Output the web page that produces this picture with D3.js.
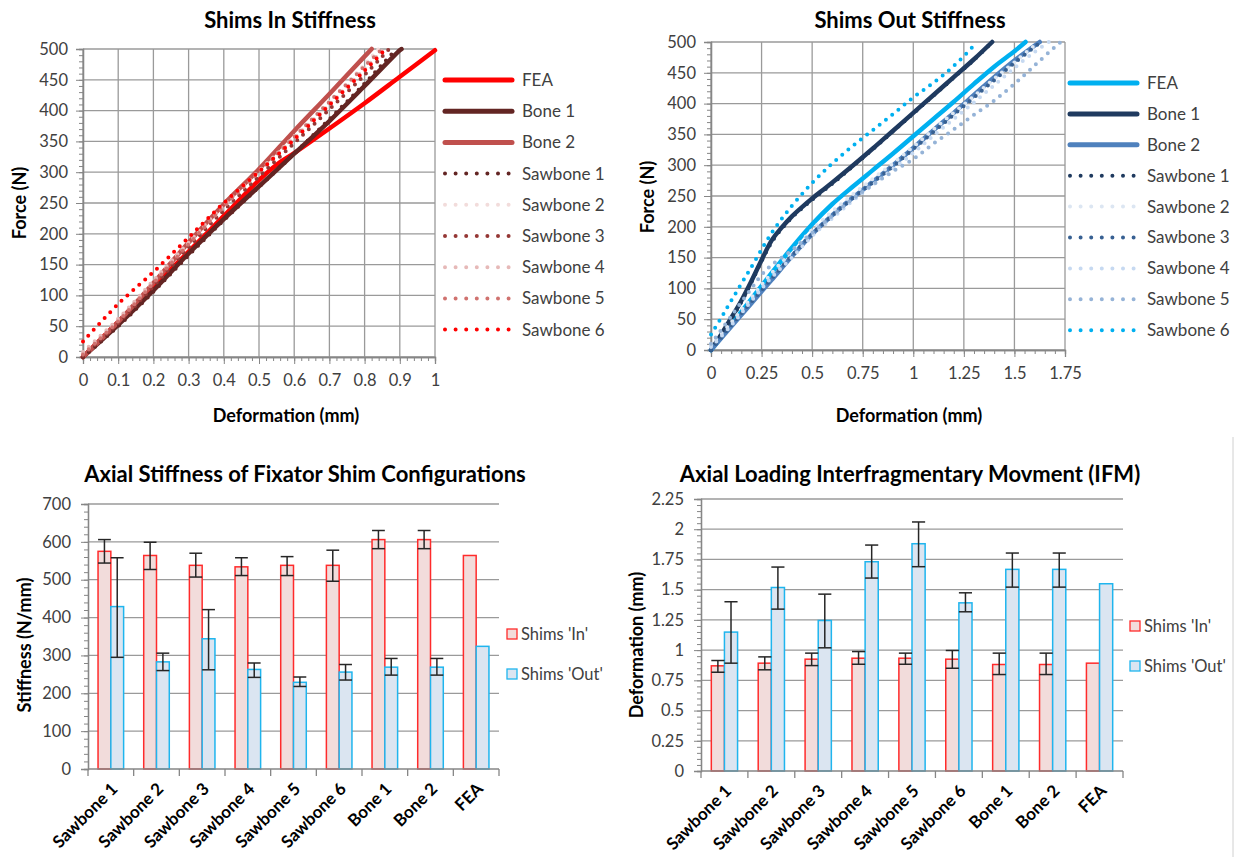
<!DOCTYPE html>
<html>
<head>
<meta charset="utf-8">
<script src="https://cdn.jsdelivr.net/npm/d3@7"></script>
<style>
    body { margin: 0; background: #fff; }
    svg text { font-family: Lato, "Open Sans", sans-serif; }
</style>
</head>
<body>
<svg id="chart" width="1236" height="857"></svg>
<script>
// ---- Shims In stiffness: [deformation mm, force N] ----
const inFEA = [[0,0],[0.1,57],[0.2,114],[0.3,171],[0.4,229],[0.5,287],[0.55,312],[0.6,331],[0.7,371],[0.8,412],[0.9,455],[1.0,498]];
const inBone1 = [[0,0],[0.1,52],[0.2,108],[0.3,168],[0.4,224],[0.5,277],[0.6,330],[0.7,383],[0.8,440],[0.9,498],[0.905,500]];
const inBone2 = [[0,0],[0.1,57],[0.2,120],[0.3,186],[0.4,248],[0.5,305],[0.6,367],[0.7,427],[0.8,488],[0.82,500]];
const inSaw1 = [[0,0],[0.1,50],[0.2,106],[0.3,165],[0.4,222],[0.5,276],[0.6,330],[0.7,386],[0.8,444],[0.89,500]];
const inSaw2 = [[0,5],[0.1,60],[0.2,122],[0.3,185],[0.4,245],[0.5,300],[0.6,358],[0.7,415],[0.8,475],[0.84,500]];
const inSaw3 = [[0,2],[0.1,55],[0.2,115],[0.3,178],[0.4,238],[0.5,293],[0.6,347],[0.7,402],[0.8,458],[0.87,500]];
const inSaw4 = [[0,8],[0.1,62],[0.2,124],[0.3,186],[0.4,246],[0.5,302],[0.6,356],[0.7,410],[0.8,468],[0.855,500]];
const inSaw5 = [[0,4],[0.1,58],[0.2,120],[0.3,183],[0.4,244],[0.5,300],[0.6,357],[0.7,414],[0.8,472],[0.85,500]];
const inSaw6 = [[0,25],[0.1,86],[0.2,138],[0.3,194],[0.4,250],[0.5,301],[0.6,353],[0.7,409],[0.8,465],[0.86,500]];

// ---- Shims Out stiffness ----
const outFEA = [[0,0],[0.1,41],[0.2,83],[0.3,125],[0.4,166],[0.5,204],[0.6,237],[0.7,265],[0.8,292],[0.9,319],[1.0,347],[1.1,375],[1.2,403],[1.3,432],[1.4,460],[1.5,485],[1.555,500]];
const outBone1 = [[0,0],[0.05,25],[0.1,52],[0.15,80],[0.2,112],[0.25,146],[0.3,178],[0.35,199],[0.4,217],[0.45,232],[0.5,246],[0.55,259],[0.6,272],[0.7,299],[0.8,327],[0.9,356],[1.0,385],[1.1,414],[1.2,443],[1.3,472],[1.39,500]];
const outBone2 = [[0,0],[0.1,38],[0.2,76],[0.3,114],[0.4,152],[0.5,188],[0.6,219],[0.7,247],[0.8,273],[0.9,300],[1.0,328],[1.1,357],[1.2,385],[1.3,414],[1.4,443],[1.5,470],[1.625,500]];
const outSaw1 = [[0,0],[0.05,24],[0.1,50],[0.15,78],[0.2,110],[0.25,144],[0.3,175],[0.35,197],[0.4,215],[0.45,230],[0.5,244],[0.55,257],[0.6,270],[0.7,298],[0.8,326],[0.9,355],[1.0,384],[1.1,413],[1.2,442],[1.3,471],[1.39,500]];
const outSaw2 = [[0,8],[0.1,45],[0.2,85],[0.3,125],[0.4,160],[0.5,195],[0.6,225],[0.7,252],[0.8,278],[0.9,303],[1.0,330],[1.1,358],[1.2,385],[1.3,412],[1.4,440],[1.5,467],[1.62,500]];
const outSaw3 = [[0,0],[0.1,40],[0.2,78],[0.3,116],[0.4,153],[0.5,188],[0.6,218],[0.7,246],[0.8,272],[0.9,298],[1.0,326],[1.1,354],[1.2,382],[1.3,410],[1.4,438],[1.5,466],[1.63,500]];
const outSaw4 = [[0,5],[0.1,40],[0.2,80],[0.3,118],[0.4,150],[0.5,185],[0.6,214],[0.7,242],[0.8,268],[0.9,294],[1.0,320],[1.1,348],[1.2,375],[1.3,402],[1.4,430],[1.5,458],[1.6,484],[1.67,500]];
const outSaw5 = [[0,10],[0.1,55],[0.2,100],[0.25,122],[0.3,138],[0.4,162],[0.5,190],[0.6,218],[0.7,245],[0.8,268],[0.9,290],[1.0,310],[1.1,335],[1.2,358],[1.3,382],[1.4,405],[1.5,432],[1.6,462],[1.7,492],[1.73,500]];
const outSaw6 = [[0,25],[0.05,52],[0.1,80],[0.2,135],[0.3,190],[0.4,234],[0.5,271],[0.6,303],[0.7,331],[0.8,357],[0.9,383],[1.0,410],[1.1,434],[1.2,461],[1.3,495],[1.31,500]];

const seriesNames = ['FEA', 'Bone 1', 'Bone 2', 'Sawbone 1', 'Sawbone 2', 'Sawbone 3', 'Sawbone 4', 'Sawbone 5', 'Sawbone 6'];
const inColors = ['#ff0000', '#632523', '#c0504d', '#632523', '#f2dcdb', '#953735', '#e6b9b8', '#d0726f', '#ff0000'];
const outColors = ['#00b0f0', '#1f3a5f', '#4f81bd', '#1f3a5f', '#dce6f2', '#376092', '#c6d9f1', '#95b3d7', '#00b0f0'];

const forceTicks = [0, 50, 100, 150, 200, 250, 300, 350, 400, 450, 500];
const inDefTicks = [0, 0.1, 0.2, 0.3, 0.4, 0.5, 0.6, 0.7, 0.8, 0.9, 1];
const outDefTicks = [0, 0.25, 0.5, 0.75, 1, 1.25, 1.5, 1.75];

// ---- bar charts ----
const barCategories = ['Sawbone 1', 'Sawbone 2', 'Sawbone 3', 'Sawbone 4', 'Sawbone 5', 'Sawbone 6', 'Bone 1', 'Bone 2', 'FEA'];
const stiffIn = [575, 564, 538, 534, 538, 538, 606, 606, 564];
const stiffInLo = [544, 527, 507, 511, 511, 496, 582, 582, null];
const stiffInHi = [606, 599, 570, 558, 561, 578, 630, 630, null];
const stiffOut = [429, 283, 344, 263, 229, 256, 269, 269, 324];
const stiffOutLo = [295, 260, 262, 242, 218, 235, 248, 248, null];
const stiffOutHi = [558, 306, 421, 280, 243, 276, 292, 292, null];
const ifmIn = [0.87, 0.892, 0.925, 0.933, 0.933, 0.925, 0.881, 0.881, 0.892];
const ifmInLo = [0.817, 0.837, 0.872, 0.883, 0.883, 0.85, 0.798, 0.798, null];
const ifmInHi = [0.914, 0.944, 0.975, 0.988, 0.975, 0.997, 0.975, 0.975, null];
const ifmOut = [1.149, 1.518, 1.245, 1.731, 1.88, 1.391, 1.668, 1.668, 1.549];
const ifmOutLo = [0.892, 1.339, 1.019, 1.596, 1.69, 1.317, 1.521, 1.521, null];
const ifmOutHi = [1.40, 1.687, 1.463, 1.869, 2.06, 1.474, 1.803, 1.803, null];
const stiffTicks = [0, 100, 200, 300, 400, 500, 600, 700];
const ifmTicks = [0, 0.25, 0.5, 0.75, 1, 1.25, 1.5, 1.75, 2, 2.25];
const barLegend = ["Shims 'In'", "Shims 'Out'"];

const svg = d3.select('#chart');
const gridColor = '#9a9a9a';
const axisColor = '#868686';
const labelColor = '#404040';

function lineChart(c) {
    const g = svg.append('g');
    const x = d3.scaleLinear().domain([0, c.xMax]).range([c.left, c.right]);
    const y = d3.scaleLinear().domain([0, 500]).range([c.bottom, c.top]);

    // gridlines
    g.append('g').selectAll('line').data(c.xTicks).join('line')
        .attr('x1', d => x(d)).attr('x2', d => x(d))
        .attr('y1', c.top).attr('y2', c.bottom)
        .attr('stroke', gridColor).attr('stroke-width', 1.3);
    g.append('g').selectAll('line').data(forceTicks).join('line')
        .attr('x1', c.left).attr('x2', c.right)
        .attr('y1', d => y(d)).attr('y2', d => y(d))
        .attr('stroke', gridColor).attr('stroke-width', 1.3);

    // minor ticks
    const yMinor = g.append('g').attr('transform', `translate(${c.left},0)`)
        .call(d3.axisLeft(y).tickValues(d3.range(0, 501, 10)).tickSize(4).tickFormat(''));
    const xMinor = g.append('g').attr('transform', `translate(0,${c.bottom})`)
        .call(d3.axisBottom(x).tickValues(d3.range(0, c.xMax + 1e-9, c.xMinor)).tickSize(4).tickFormat(''));

    const yAxis = g.append('g').attr('transform', `translate(${c.left},0)`)
        .call(d3.axisLeft(y).tickValues(forceTicks).tickSize(7).tickPadding(8));
    const xAxis = g.append('g').attr('transform', `translate(0,${c.bottom})`)
        .call(d3.axisBottom(x).tickValues(c.xTicks).tickSize(7).tickPadding(10).tickFormat(d3.format('~g')));
    [yMinor, xMinor, yAxis, xAxis].forEach(a => {
        a.select('.domain').attr('stroke', axisColor).attr('stroke-width', 1.3);
        a.selectAll('.tick line').attr('stroke', axisColor);
        a.selectAll('text').attr('font-size', 16.5).attr('fill', labelColor)
            .style('font-family', 'Lato, sans-serif');
    });

    // series
    const line = d3.line().x(d => x(d[0])).y(d => y(d[1])).curve(d3.curveCatmullRom.alpha(0.5));
    c.series.forEach((s, i) => {
        const dotted = i >= 3;
        g.append('path')
            .datum(s)
            .attr('fill', 'none')
            .attr('stroke', c.colors[i])
            .attr('stroke-width', dotted ? 4 : 4.5)
            .attr('stroke-linecap', 'round')
            .attr('stroke-dasharray', dotted ? '0 8' : null)
            .attr('d', line);
    });

    // legend
    seriesNames.forEach((name, i) => {
        const ly = c.legY + i * c.legDy;
        const dotted = i >= 3;
        g.append('line')
            .attr('x1', c.legX).attr('x2', c.legX + 67)
            .attr('y1', ly).attr('y2', ly)
            .attr('stroke', c.colors[i])
            .attr('stroke-width', dotted ? 4 : 5)
            .attr('stroke-linecap', 'round')
            .attr('stroke-dasharray', dotted ? '0 10.6' : null);
        g.append('text')
            .attr('x', c.legX + 77).attr('y', ly)
            .attr('dy', '0.35em')
            .attr('font-size', 17).attr('fill', labelColor)
            .text(name);
    });

    g.append('text')
        .attr('x', c.titleX).attr('y', 20).attr('dy', '0.35em')
        .attr('text-anchor', 'middle').attr('font-size', 22).attr('font-weight', 'bold')
        .text(c.title);
    g.append('text')
        .attr('x', c.xTitleX).attr('y', 416).attr('dy', '0.35em')
        .attr('text-anchor', 'middle').attr('font-size', 18).attr('font-weight', 'bold')
        .text('Deformation (mm)');
    g.append('text')
        .attr('transform', `translate(${c.yTitleX},${c.yTitleY}) rotate(-90)`)
        .attr('dy', '0.35em')
        .attr('text-anchor', 'middle').attr('font-size', 18).attr('font-weight', 'bold')
        .text('Force (N)');
}

function barChart(c) {
    const g = svg.append('g');
    const x = d3.scaleBand().domain(barCategories).range([c.left, c.right]);
    const y = d3.scaleLinear().domain([0, c.yMax]).range([c.bottom, c.top]);
    const bw = x.bandwidth();
    const inner = d3.scaleBand().domain([0, 1]).range([bw * 0.22, bw * 0.78]);

    g.append('g').selectAll('line').data(c.ticks.slice(1)).join('line')
        .attr('x1', c.left).attr('x2', c.right)
        .attr('y1', d => y(d)).attr('y2', d => y(d))
        .attr('stroke', gridColor).attr('stroke-width', 1.3);

    const yMinor = g.append('g').attr('transform', `translate(${c.left},0)`)
        .call(d3.axisLeft(y).tickValues(d3.range(0, c.yMax + 1e-9, c.minor)).tickSize(4).tickFormat(''));
    const yAxis = g.append('g').attr('transform', `translate(${c.left},0)`)
        .call(d3.axisLeft(y).tickValues(c.ticks).tickSize(7).tickPadding(10).tickFormat(d3.format('~g')));
    [yMinor, yAxis].forEach(a => {
        a.select('.domain').attr('stroke', axisColor).attr('stroke-width', 1.3);
        a.selectAll('.tick line').attr('stroke', axisColor);
        a.selectAll('text').attr('font-size', 16.5).attr('fill', labelColor)
            .style('font-family', 'Lato, sans-serif');
    });

    // bars
    const groups = [
        { v: c.inV, lo: c.inLo, hi: c.inHi, fill: '#f2dcdb', stroke: '#ff2b2b' },
        { v: c.outV, lo: c.outLo, hi: c.outHi, fill: '#dbe5f1', stroke: '#1fb5ee' },
    ];
    groups.forEach((grp, k) => {
        g.append('g').selectAll('rect').data(barCategories).join('rect')
            .attr('x', d => x(d) + inner(k))
            .attr('y', (d, i) => y(grp.v[i]))
            .attr('width', inner.bandwidth())
            .attr('height', (d, i) => c.bottom - y(grp.v[i]))
            .attr('fill', grp.fill)
            .attr('stroke', grp.stroke)
            .attr('stroke-width', 1.5);
    });

    // x axis line and category ticks
    g.append('line').attr('x1', c.left).attr('x2', c.right)
        .attr('y1', c.bottom).attr('y2', c.bottom)
        .attr('stroke', axisColor).attr('stroke-width', 1.3);
    g.append('g').selectAll('line').data(barCategories.concat(['end'])).join('line')
        .attr('x1', (d, i) => c.left + i * bw).attr('x2', (d, i) => c.left + i * bw)
        .attr('y1', c.bottom).attr('y2', c.bottom + 7)
        .attr('stroke', axisColor).attr('stroke-width', 1.3);

    // error bars
    groups.forEach((grp, k) => {
        barCategories.forEach((cat, i) => {
            if (grp.lo[i] == null) return;
            const cx = x(cat) + inner(k) + inner.bandwidth() / 2;
            const half = inner.bandwidth() / 2;
            const eg = g.append('g').attr('stroke', '#262626').attr('stroke-width', 1.5);
            eg.append('line').attr('x1', cx).attr('x2', cx).attr('y1', y(grp.lo[i])).attr('y2', y(grp.hi[i]));
            eg.append('line').attr('x1', cx - half).attr('x2', cx + half).attr('y1', y(grp.lo[i])).attr('y2', y(grp.lo[i]));
            eg.append('line').attr('x1', cx - half).attr('x2', cx + half).attr('y1', y(grp.hi[i])).attr('y2', y(grp.hi[i]));
        });
    });

    // rotated category labels
    g.append('g').selectAll('text').data(barCategories).join('text')
        .attr('transform', d => `translate(${x(d) + bw / 2 + 8},${c.bottom + 21}) rotate(-45)`)
        .attr('text-anchor', 'end')
        .attr('font-size', 17).attr('font-weight', 'bold')
        .text(d => d);

    // legend
    barLegend.forEach((name, k) => {
        const ly = c.legY + k * 40;
        g.append('rect')
            .attr('x', c.legX).attr('y', ly - 5).attr('width', 10).attr('height', 10)
            .attr('fill', groups[k].fill).attr('stroke', groups[k].stroke).attr('stroke-width', 1.3);
        g.append('text')
            .attr('x', c.legX + 14).attr('y', ly).attr('dy', '0.35em')
            .attr('font-size', 16.5).attr('fill', labelColor)
            .text(name);
    });

    g.append('text')
        .attr('x', c.titleX).attr('y', 474).attr('dy', '0.35em')
        .attr('text-anchor', 'middle').attr('font-size', 22).attr('font-weight', 'bold')
        .text(c.title);
    g.append('text')
        .attr('transform', `translate(${c.yTitleX},645) rotate(-90)`)
        .attr('dy', '0.35em')
        .attr('text-anchor', 'middle').attr('font-size', 18).attr('font-weight', 'bold')
        .text(c.yTitle);
}

lineChart({
    title: 'Shims In Stiffness', titleX: 290, xTitleX: 286, yTitleX: 20, yTitleY: 203,
    left: 83, right: 435, top: 49, bottom: 357,
    xMax: 1, xTicks: inDefTicks, xMinor: 0.02,
    series: [inFEA, inBone1, inBone2, inSaw1, inSaw2, inSaw3, inSaw4, inSaw5, inSaw6],
    colors: inColors, legX: 445, legY: 80, legDy: 31.2,
});

lineChart({
    title: 'Shims Out Stiffness', titleX: 910, xTitleX: 909, yTitleX: 648, yTitleY: 197,
    left: 711, right: 1065, top: 42, bottom: 350,
    xMax: 1.75, xTicks: outDefTicks, xMinor: 0.05,
    series: [outFEA, outBone1, outBone2, outSaw1, outSaw2, outSaw3, outSaw4, outSaw5, outSaw6],
    colors: outColors, legX: 1070, legY: 83, legDy: 30.9,
});

barChart({
    title: 'Axial Stiffness of Fixator Shim Configurations', titleX: 305, yTitle: 'Stiffness (N/mm)', yTitleX: 25,
    left: 88, right: 499, top: 504, bottom: 769,
    yMax: 700, ticks: stiffTicks, minor: 20,
    inV: stiffIn, inLo: stiffInLo, inHi: stiffInHi,
    outV: stiffOut, outLo: stiffOutLo, outHi: stiffOutHi,
    legX: 507, legY: 634,
});

barChart({
    title: 'Axial Loading Interfragmentary Movment (IFM)', titleX: 910, yTitle: 'Deformation (mm)', yTitleX: 637,
    left: 701, right: 1123, top: 499, bottom: 771,
    yMax: 2.25, ticks: ifmTicks, minor: 0.05,
    inV: ifmIn, inLo: ifmInLo, inHi: ifmInHi,
    outV: ifmOut, outLo: ifmOutLo, outHi: ifmOutHi,
    legX: 1130, legY: 626,
});

// thin border line at the right edge of the lower panel
svg.append('line').attr('x1', 1233).attr('x2', 1233).attr('y1', 437).attr('y2', 857)
    .attr('stroke', '#d0d0d0').attr('stroke-width', 1);
</script>
</body>
</html>
